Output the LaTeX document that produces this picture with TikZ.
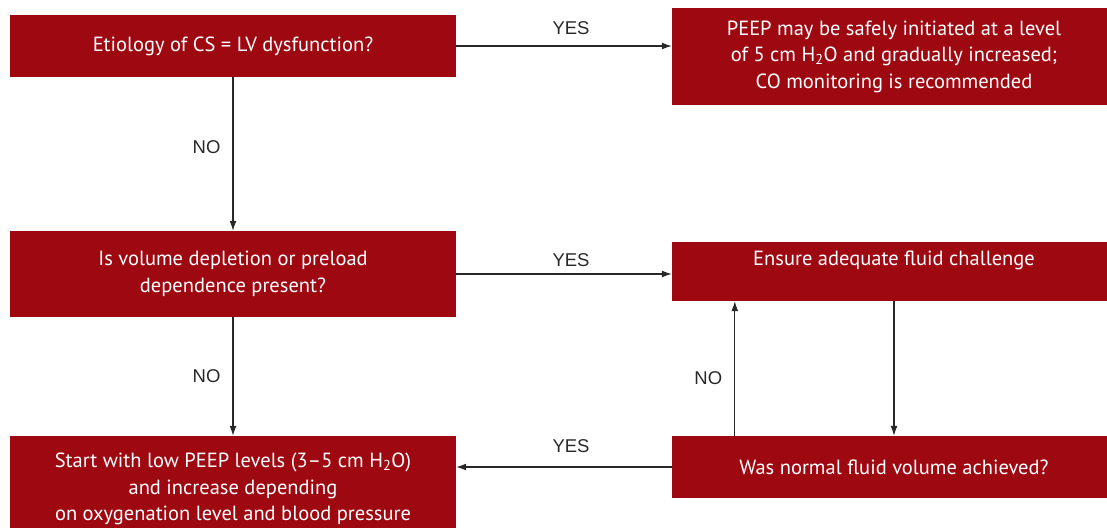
\documentclass[tikz,border=0pt]{standalone}
\usepackage{fontspec}
\setmainfont{PT Sans}
\newfontfamily\answerfont{Liberation Sans}
\usepackage{tikz}
\usetikzlibrary{arrows.meta,positioning}
\definecolor{boxred}{RGB}{158, 8, 16}
\definecolor{linegray}{RGB}{40, 40, 40}

\tikzset{
  stepbox/.style={fill=boxred, text=white, align=center, inner sep=0pt,
    minimum width=446pt, font=\fontsize{20.5}{26.5}\selectfont},
  flow/.style={-{Latex[length=10pt,width=7pt]}, draw=linegray, line width=1.2pt},
  answer/.style={font=\answerfont\fontsize{18.5}{18.5}\selectfont, text=linegray, inner sep=2pt}
}

\begin{document}
\begin{tikzpicture}[x=1pt, y=-1pt]
  \useasboundingbox (0,0) rectangle (1107,527);
  \clip (0,0) rectangle (1107,527);

  % Decision boxes (left column)
  \node[stepbox, minimum height=62pt] (etiology) at (233,46) {Etiology of CS = LV dysfunction?};
  \node[stepbox, minimum height=86pt] (volume) at (233,274) {Is volume depletion or preload\\dependence present?};
  \node[stepbox, minimum height=106pt] (lowpeep) at (233,489) {Start with low PEEP levels (3–5 cm H\textsubscript{2}O)\\and increase depending\\on oxygenation level and blood pressure};

  % Action boxes (right column)
  \node[stepbox, minimum width=444pt, minimum height=97pt] (peepsafe) at (894,56.5) {PEEP may be safely initiated at a level\\of 5 cm H\textsubscript{2}O and gradually increased;\\CO monitoring is recommended};
  \node[stepbox, minimum width=444pt, minimum height=59pt] (fluid) at (894,271.5) {Ensure adequate fluid challenge\\~};
  \node[stepbox, minimum width=444pt, minimum height=62pt] (achieved) at (894,467) {Was normal fluid volume achieved?};

  % Connectors
  \draw[flow] (etiology.east) -- (etiology.east -| peepsafe.west) node[answer, midway, above=9pt, xshift=7pt] {YES};
  \draw[flow] (etiology) -- (volume) node[answer, pos=0.455, left=10pt] {NO};
  \draw[flow] (volume.east) -- (volume.east -| fluid.west) node[answer, midway, above=5pt, xshift=7pt] {YES};
  \draw[flow] (volume) -- (lowpeep) node[answer, midway, left=10pt] {NO};
  \draw[flow] (fluid) -- (achieved);
  \draw[flow] ([xshift=63pt]achieved.north west) -- ([xshift=63pt]fluid.south west) node[answer, pos=0.43, left=10pt] {NO};
  \draw[flow] (achieved.west) -- (achieved.west -| lowpeep.east) node[answer, midway, above=12pt, xshift=7pt] {YES};
\end{tikzpicture}
\end{document}
